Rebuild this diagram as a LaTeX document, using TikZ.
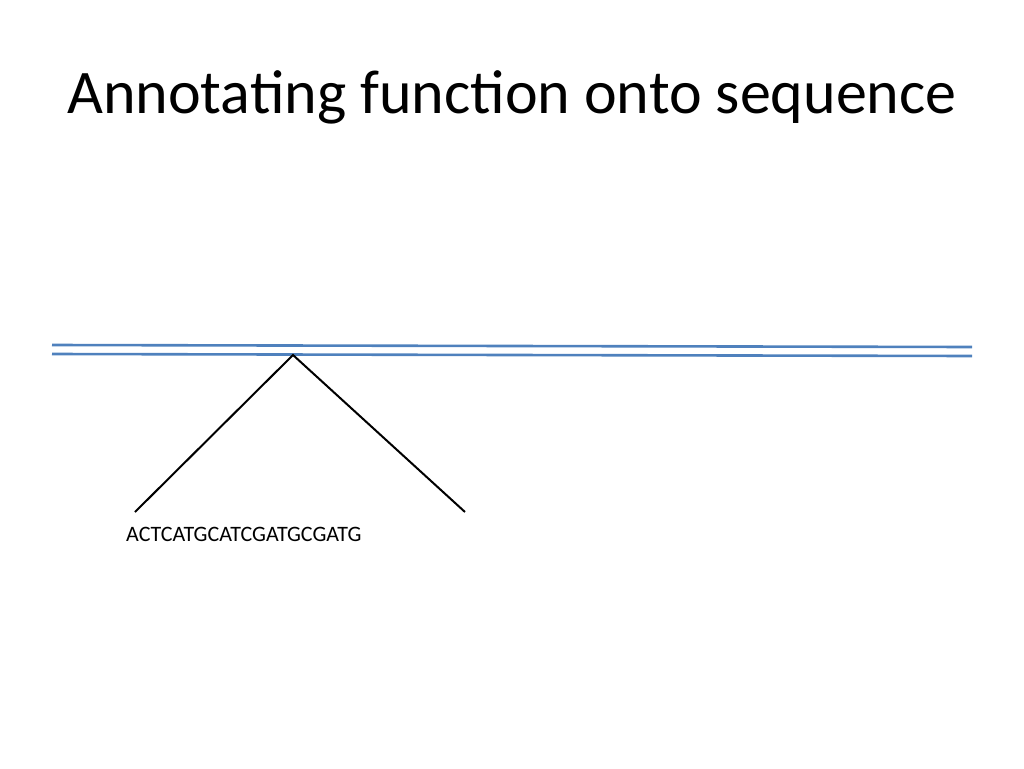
\documentclass[tikz,border=0pt]{standalone}
\usepackage{fontspec}
\setmainfont{Carlito}
\definecolor{strandblue}{HTML}{4F81BD}

\begin{document}
\begin{tikzpicture}[x=1pt,y=-1pt]

% Define strand and leg styles
\tikzstyle{strand} = [draw=strandblue, line width=2.6pt]
\tikzstyle{leg} = [draw=black, line width=2pt]

\useasboundingbox (0,0) rectangle (1024,768);

\node (title) at (512,97) {\fontsize{62}{70}\selectfont Annotating function onto sequence};

\coordinate (topL) at (52,345);
\coordinate (topR) at (972,347);
\coordinate (botL) at (52,354);
\coordinate (botR) at (972,356);
\draw[strand] (topL) -- (topR);
\draw[strand] (botL) -- (botR);

\coordinate (apex) at (293,355);
\coordinate (legL) at (135,512);
\coordinate (legR) at (465,512);
\draw[leg] (legL) -- (apex) -- (legR);

\node[anchor=west, inner sep=0pt] (seq) at (126,534) {\fontsize{22}{26}\selectfont ACTCATGCATCGATGCGATG};
\end{tikzpicture}
\end{document}
